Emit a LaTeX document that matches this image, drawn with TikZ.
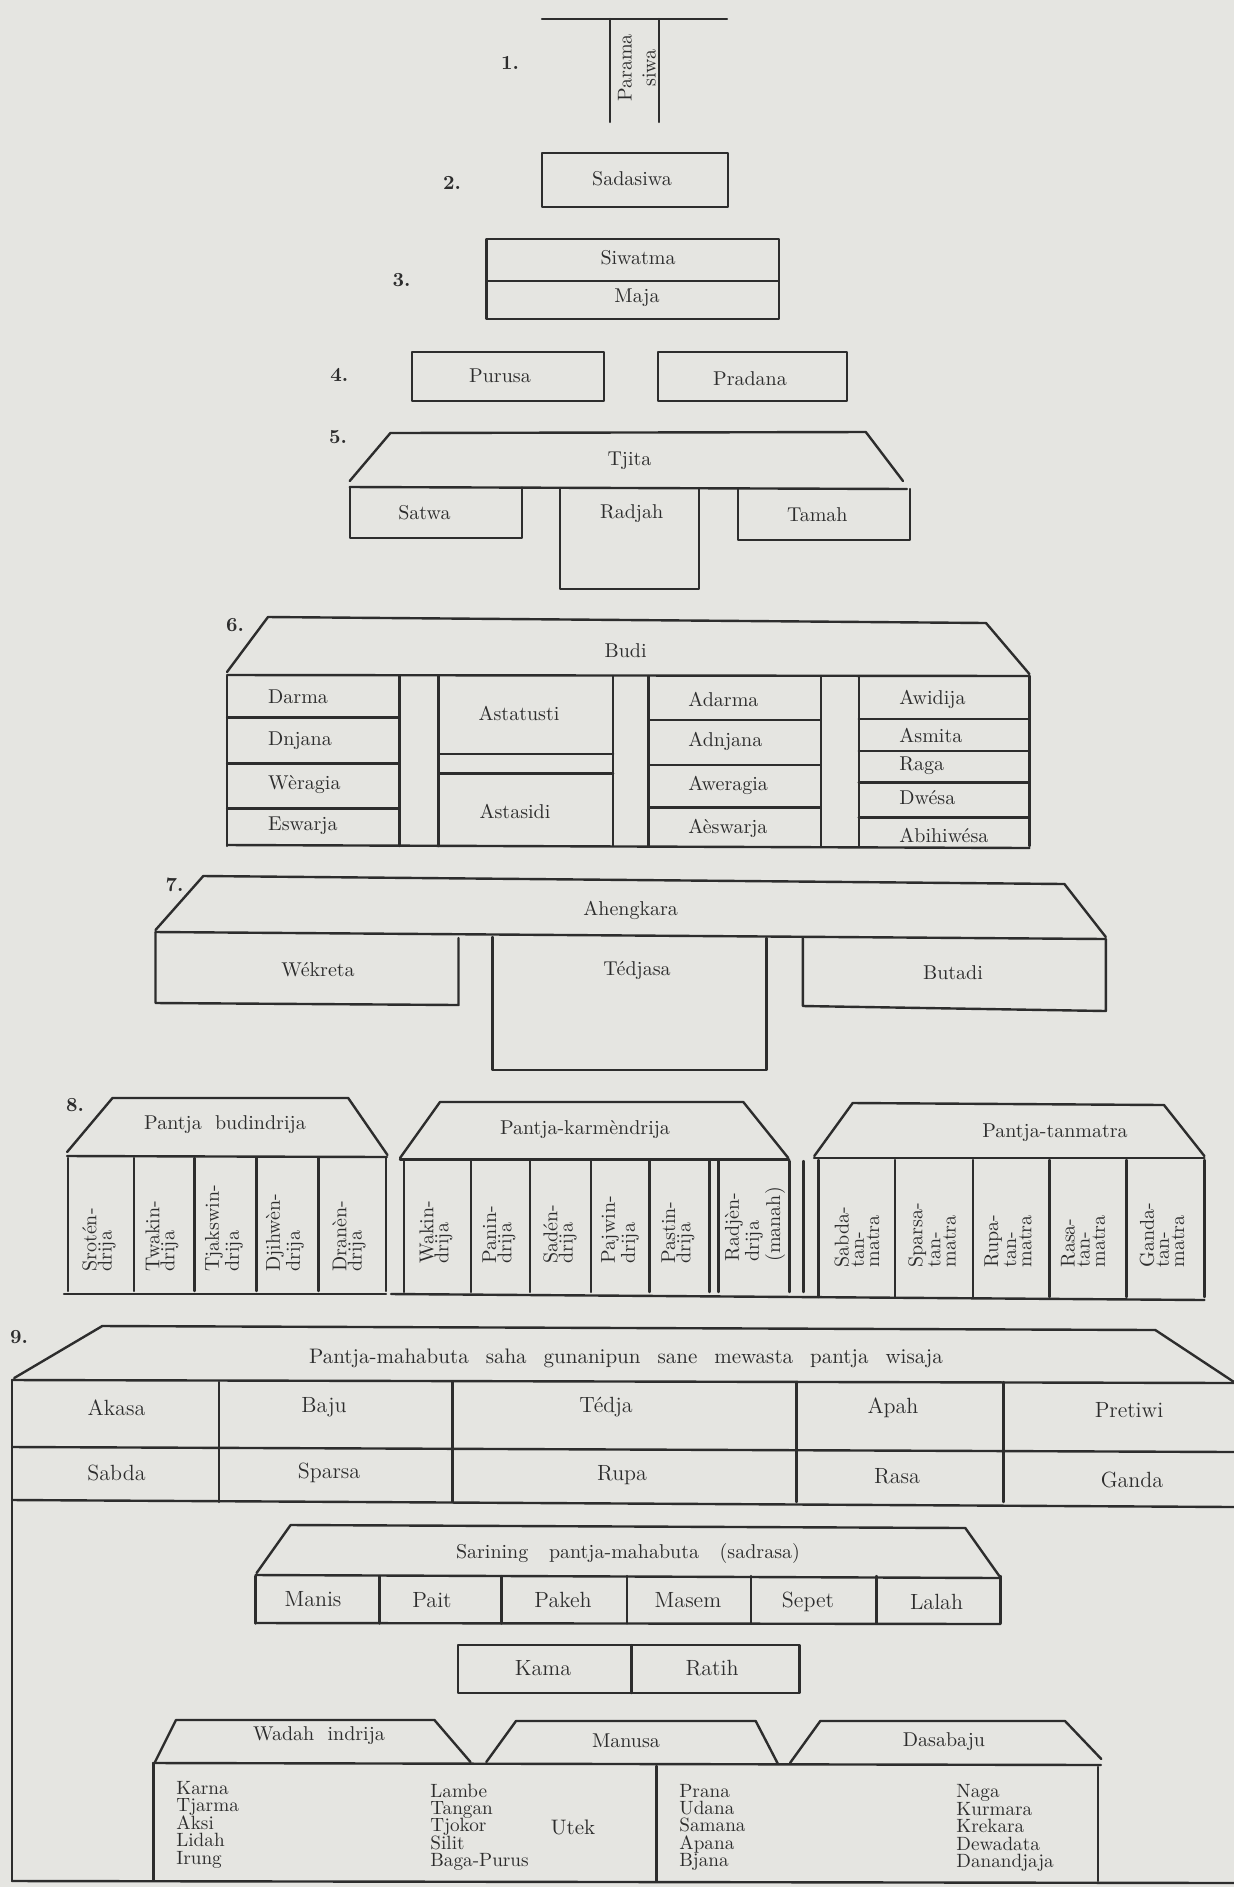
\documentclass[tikz,border=0pt]{standalone}
\usepackage{fontspec}
\definecolor{paper}{RGB}{229,229,225}
\definecolor{ink}{RGB}{45,45,45}
\tikzset{
  ln/.style={draw=ink, line width=1.2pt, line cap=round, line join=round},
  tx/.style={text=ink, inner sep=0pt, font=\fontsize{10}{12}\selectfont},
  txl/.style={tx, anchor=west},
  big/.style={tx, font=\fontsize{11}{13}\selectfont},
  vt/.style={tx, rotate=90, anchor=west, align=left, font=\fontsize{10}{7.6}\selectfont},
  lsti/.style={tx, anchor=base west, font=\fontsize{9.6}{8.7}\selectfont},
  num/.style={tx, font=\bfseries\fontsize{10}{12}\selectfont},
}
\begin{document}
\begin{tikzpicture}[x=0.5pt,y=-0.5pt]
\fill[paper] (0,0) rectangle (1234,1887);
\useasboundingbox (0,0) rectangle (1234,1887);

% ---------- 1. Paramasiwa
\draw[ln] (542,19) -- (727,19);
\draw[ln] (610,19) -- (610,122);
\draw[ln] (659,19) -- (659,122);
\node[tx, rotate=90, align=center] (parama) at (637,68) {Parama\\siwa};
\node[num] (n1) at (510,63) {1.};

% ---------- 2. Sadasiwa
\draw[ln] (542,153) rectangle (728,207);
\node[tx] (sadasiwa) at (632,179) {Sadasiwa};
\node[num] (n2) at (452,183) {2.};

% ---------- 3. Siwatma / Maja
\draw[ln] (486.5,239) rectangle (778.7,319);
\draw[ln] (486.5,281) -- (778.7,281);
\node[tx] (siwatma) at (638,258) {Siwatma};
\node[tx] (maja) at (637,298) {Maja};
\node[num] (n3) at (401.6,280) {3.};

% ---------- 4. Purusa / Pradana
\draw[ln] (412,352) rectangle (604,401);
\node[tx] (purusa) at (500,376) {Purusa};
\draw[ln] (658,352) rectangle (847,401);
\node[tx] (pradana) at (750,379) {Pradana};
\node[num] (n4) at (339.4,375) {4.};

% ---------- 5. Tjita
\node[num] (n5) at (338,437) {5.};
\draw[ln] (349.7,481) -- (390.4,433) -- (865.8,432) -- (903,481);
\draw[ln] (349.7,487) -- (907,489);
\draw[ln] (349.7,487) -- (349.7,538) -- (521.8,538) -- (521.8,487.5);
\draw[ln] (559.9,488) -- (559.9,589) -- (698.7,589) -- (698.7,488);
\draw[ln] (738.1,488.5) -- (738.1,540) -- (910.1,540) -- (910.1,489);
\node[tx] (tjita) at (629.5,461) {Tjita};
\node[tx] (satwa) at (424.4,513) {Satwa};
\node[tx] (radjah) at (631.6,514) {Radjah};
\node[tx] (tamah) at (817.3,515) {Tamah};

% ---------- 6. Budi
\node[num] (n6) at (235,625) {6.};
\draw[ln] (227,672) -- (268,617) -- (986,623) -- (1029.4,674);
\draw[ln] (227,675) -- (1029.4,676);
\draw[ln] (227,845) -- (1029.4,848);
\foreach \xx in {227.1,399.5,438.5,613.1,648.3,820.7,858.7,1029.4}
  \draw[ln] (\xx,676) -- (\xx,846);
\foreach \yy in {717.3,763.3,808.3} \draw[ln] (227.1,\yy) -- (399.5,\yy);
\foreach \yy in {754,773.3} \draw[ln] (438.5,\yy) -- (613.1,\yy);
\foreach \yy in {720,765,807.3} \draw[ln] (648.3,\yy) -- (820.7,\yy);
\foreach \yy in {719,750.7,782.3,817.3} \draw[ln] (858.7,\yy) -- (1029.4,\yy);
\node[tx] (budi) at (625.6,651) {Budi};
\node[txl] (darma) at (267.8,697) {Darma};
\node[txl] (dnjana) at (267.8,741) {Dnjana};
\node[txl] (weragia) at (267.8,785) {Wèragia};
\node[txl] (eswarja) at (267.8,826) {Eswarja};
\node[tx] (astatusti) at (519,713) {Astatusti};
\node[tx] (astasidi) at (515,811) {Astasidi};
\node[txl] (adarma) at (688,699) {Adarma};
\node[txl] (adnjana) at (688,741) {Adnjana};
\node[txl] (aweragia) at (688,785) {Aweragia};
\node[txl] (aeswarja) at (688,828) {Aèswarja};
\node[txl] (awidija) at (899,699) {Awidija};
\node[txl] (asmita) at (899,735) {Asmita};
\node[txl] (raga) at (899,766) {Raga};
\node[txl] (dwesa) at (899,798) {Dwésa};
\node[txl] (abihiwesa) at (899,835) {Abihiwésa};

% ---------- 7. Ahengkara
\node[num] (n7) at (174.6,885) {7.};
\draw[ln] (155.5,930) -- (203.3,876) -- (1064.4,884) -- (1105.8,937);
\draw[ln] (155.5,932) -- (1105.8,939);
\draw[ln] (155.5,932) -- (155.5,1003) -- (458.5,1005) -- (458.5,938);
\draw[ln] (492.3,937) -- (492.3,1070) -- (766.5,1070) -- (766.5,938);
\draw[ln] (802.9,938) -- (802.9,1006) -- (1105.8,1011) -- (1105.8,939);
\node[tx] (ahengkara) at (630.7,910) {Ahengkara};
\node[tx] (wekreta) at (318,970) {Wékreta};
\node[tx] (tedjasa) at (637,971) {Tédjasa};
\node[tx] (butadi) at (953,973) {Butadi};

% ---------- 8. Pantja budindrija / karmendrija / tanmatra
\node[num] (n8) at (75,1105) {8.};
% group A
\draw[ln] (67.1,1152) -- (112.5,1098) -- (348.2,1098) -- (387.5,1155);
\draw[ln] (67,1156) -- (387,1157);
\foreach \xx in {67.9,133.9,194.6,256.4,318.5,385.7} \draw[ln] (\xx,1158) -- (\xx,1291);
% group B
\draw[ln] (400,1158) -- (440,1102) -- (743.3,1102) -- (788.3,1158);
\draw[ln] (400,1159.5) -- (789,1159.5);
\foreach \xx in {404,470.7,530,590.7,649.3,709.3,718.3,789.3,803.3} \draw[ln] (\xx,1161) -- (\xx,1292);
% group C
\draw[ln] (814.3,1156) -- (852.7,1103) -- (1164,1105) -- (1204.4,1156);
\draw[ln] (814,1158) -- (1204.4,1158);
\foreach \xx in {818.3,895.1,972.8,1049.6,1126.4,1204.4} \draw[ln] (\xx,1160) -- (\xx,1297);
% bottom lines
\draw[ln] (64,1294) -- (386,1294);
\draw[ln] (391,1294) -- (1204.4,1300);
\node[tx] (pbud) at (225,1125) {Pantja\ \ budindrija};
\node[tx] (pkarm) at (585,1130) {Pantja-karmèndrija};
\node[tx] (ptan) at (1055,1133) {Pantja-tanmatra};
\node[vt] (srot) at (99,1272) {Srotén-\\drija};
\node[vt] (twak) at (162,1272) {Twakin-\\drija};
\node[vt] (tjak) at (224,1272) {Tjakswin-\\drija};
\node[vt] (djih) at (285,1272) {Djihwèn-\\drija};
\node[vt] (dran) at (349,1272) {Dranèn-\\drija};
\node[vt] (wakin) at (436,1264) {Wakin-\\drija};
\node[vt] (panin) at (499,1264) {Panin-\\drija};
\node[vt] (saden) at (560,1264) {Sadén-\\drija};
\node[vt] (pajwin) at (620,1264) {Pajwin-\\drija};
\node[vt] (pastin) at (678,1264) {Pastin-\\drija};
\node[vt] (radjen) at (755,1262) {Radjèn-\\drija\\(manah)};
\node[vt] (sabda) at (857,1268) {Sabda-\\tan-\\matra};
\node[vt] (sparsa) at (932,1268) {Sparsa-\\tan-\\matra};
\node[vt] (rupa) at (1008,1268) {Rupa-\\tan-\\matra};
\node[vt] (rasa) at (1083,1268) {Rasa-\\tan-\\matra};
\node[vt] (ganda) at (1162,1268) {Ganda-\\tan-\\matra};

% ---------- 9. Pantja-mahabuta
\node[num] (n9) at (19,1337) {9.};
\draw[ln] (14.2,1378) -- (102.3,1326) -- (1155.3,1330) -- (1234,1382);
\draw[ln] (12,1380) -- (1234,1383);
\draw[ln] (12,1380) -- (12,1881);
\draw[ln] (12,1881) -- (1234,1883);
\foreach \xx in {218.8,452.5,796.4,1003.4} \draw[ln] (\xx,1382) -- (\xx,1502);
\draw[ln] (12,1447) -- (1234,1452);
\draw[ln] (12,1500) -- (1234,1507);
\node[tx, font=\fontsize{10.5}{12}\selectfont] (pmaha) at (626,1358)
  {Pantja-mahabuta\hspace{5pt} saha\hspace{5pt} gunanipun\hspace{5pt} sane\hspace{5pt} mewasta\hspace{5pt} pantja\hspace{5pt} wisaja};
\node[big] (akasa) at (116.5,1408) {Akasa};
\node[big] (baju) at (324,1407) {Baju};
\node[big] (tedja) at (606,1407) {Tédja};
\node[big] (apah) at (893,1408) {Apah};
\node[big] (pretiwi) at (1129,1410) {Pretiwi};
\node[big] (sabda9) at (116.5,1473) {Sabda};
\node[big] (sparsa9) at (329,1473) {Sparsa};
\node[big] (rupa9) at (622,1475) {Rupa};
\node[big] (rasa9) at (897,1476) {Rasa};
\node[big] (ganda9) at (1132,1480) {Ganda};

% ---------- Sarining pantja-mahabuta
\draw[ln] (256.6,1573) -- (290.6,1525) -- (965.3,1528) -- (999.3,1576);
\draw[ln] (255.6,1575) -- (1000.3,1578);
\draw[ln] (255.6,1623) -- (1000.3,1624);
\foreach \xx in {255.6,379.5,501.4,626.9,750.8,876.4,1000.3} \draw[ln] (\xx,1576) -- (\xx,1623.5);
\node[tx] (sarining) at (628,1553) {Sarining\hspace{7pt} pantja-mahabuta\hspace{7pt} (sadrasa)};
\node[big] (manis) at (313,1599) {Manis};
\node[big] (pait) at (432,1600) {Pait};
\node[big] (pakeh) at (563,1600) {Pakeh};
\node[big] (masem) at (688,1600) {Masem};
\node[big] (sepet) at (808,1602) {Sepet};
\node[big] (lalah) at (936.5,1602) {Lalah};

% ---------- Kama / Ratih
\draw[ln] (458,1645) rectangle (799.5,1693);
\draw[ln] (631.6,1645) -- (631.6,1693);
\node[big] (kama) at (543,1668) {Kama};
\node[big] (ratih) at (712,1668) {Ratih};

% ---------- Wadah indrija / Manusa / Dasabaju
\draw[ln] (155,1762) -- (176,1720) -- (434.4,1720) -- (470.5,1762);
\draw[ln] (486.3,1762) -- (516,1721) -- (755.7,1721) -- (778,1764);
\draw[ln] (790,1763) -- (820.3,1721) -- (1065,1721) -- (1101.3,1759);
\draw[ln] (153,1763) -- (1101,1765);
\draw[ln] (153.4,1763) -- (153.4,1880);
\draw[ln] (1098,1767) -- (1098,1881);
\draw[ln] (656.6,1766) -- (656.6,1881);
\node[tx] (wadah) at (319,1736) {Wadah\ \ indrija};
\node[tx] (manusa) at (626,1741) {Manusa};
\node[tx] (dasabaju) at (944,1742) {Dasabaju};
\foreach \w [count=\i from 0] in {Karna,Tjarma,Aksi,Lidah,Irung}
  \node[lsti] (ka-\i) at (176,{1794.5+\i*17.4}) {\w};
\foreach \w [count=\i from 0] in {Lambe,Tangan,Tjokor,Silit,Baga-Purus}
  \node[lsti] (la-\i) at (430,{1797+\i*17.4}) {\w};
\node[tx, font=\fontsize{10.5}{12}\selectfont] (utek) at (573,1827) {Utek};
\foreach \w [count=\i from 0] in {Prana,Udana,Samana,Apana,Bjana}
  \node[lsti] (pr-\i) at (679,{1797+\i*17.4}) {\w};
\foreach \w [count=\i from 0] in {Naga,Kurmara,Krekara,Dewadata,Danandjaja}
  \node[lsti] (na-\i) at (956,{1797.5+\i*17.6}) {\w};
\end{tikzpicture}
\end{document}
